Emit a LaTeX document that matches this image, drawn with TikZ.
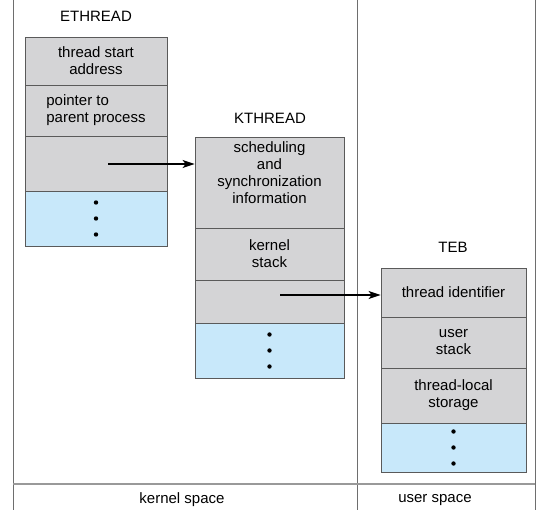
\documentclass[tikz,border=0pt]{standalone}
\usepackage{fontspec}
\setmainfont{Liberation Sans}
\usetikzlibrary{arrows.meta}
\definecolor{cellgray}{HTML}{D4D4D6}
\definecolor{cellblue}{HTML}{C8E8FA}
\definecolor{edgegray}{HTML}{5A5A5A}
\definecolor{framegray}{HTML}{6E6E6E}
\tikzset{
  cell/.style={draw=edgegray, line width=0.8pt, fill=cellgray, inner sep=0pt,
    align=center, font=\fontsize{15}{17}\selectfont},
  bluecell/.style={cell, fill=cellblue},
  title/.style={inner sep=0pt, font=\fontsize{15}{17}\selectfont},
  frameline/.style={draw=framegray, line width=0.9pt},
  ptr/.style={line width=1.3pt, -{Stealth[length=12pt,width=8pt,inset=3pt]}},
  dotmark/.style={fill=black}
}
\begin{document}
\begin{tikzpicture}[x=1pt,y=-1pt]
\useasboundingbox (0,0) rectangle (541,515);
% frame
\draw[frameline] (13,0) -- (13,510);
\draw[frameline] (357,0) -- (357,510);
\draw[frameline] (535,0) -- (535,510);
\draw[draw=gray!80, line width=1.6pt] (13,484) -- (535,484);
% ETHREAD
\node[title] (eth) at (96,16) {ETHREAD};
\node[cell, minimum width=142pt, minimum height=48pt] (e1) at (96,61) {thread start\\ address};
\node[cell, minimum width=142pt, minimum height=51pt, align=left] (e2) at (96,110.5) {pointer to\\parent process};
\node[cell, minimum width=142pt, minimum height=55pt] (e3) at (96,163.5) {};
\node[bluecell, minimum width=142pt, minimum height=55pt] (e4) at (96,218.5) {};
% KTHREAD
\node[title] (kth) at (270,118) {KTHREAD};
\node[cell, minimum width=149pt, minimum height=91pt] (k1) at (269.5,182.5) {scheduling\\ and\\ synchronization\\ information\\[3pt]};
\node[cell, minimum width=149pt, minimum height=52pt] (k2) at (269.5,254) {kernel\\ stack};
\node[cell, minimum width=149pt, minimum height=43pt] (k3) at (269.5,301.5) {};
\node[bluecell, minimum width=149pt, minimum height=55pt] (k4) at (269.5,350.5) {};
% TEB
\node[title] (teb) at (453,247) {TEB};
\node[cell, minimum width=145pt, minimum height=49pt] (t1) at (453.5,292.5) {thread identifier};
\node[cell, minimum width=145pt, minimum height=51pt] (t2) at (453.5,342.5) {user\\ stack};
\node[cell, minimum width=145pt, minimum height=55pt] (t3) at (453.5,395.5) {thread-local\\ storage};
\node[bluecell, minimum width=145pt, minimum height=49pt] (t4) at (453.5,447.5) {};
% dots
\foreach \c in {e4,k4,t4}{
  \fill[dotmark] ([yshift=16pt]\c.center) circle (2.2pt);
  \fill[dotmark] (\c.center) circle (2.2pt);
  \fill[dotmark] ([yshift=-16pt]\c.center) circle (2.2pt);
}
% pointers
\coordinate (a1) at (108,164);
\coordinate (a2) at (280,295);
\draw[ptr] (a1) -- (a1 -| k1.west);
\draw[ptr] (a2) -- (a2 -| t1.west);
% space labels
\node[title] (ks) at (182,500) {kernel space};
\node[title] (us) at (435,500) {user space};
\end{tikzpicture}
\end{document}
